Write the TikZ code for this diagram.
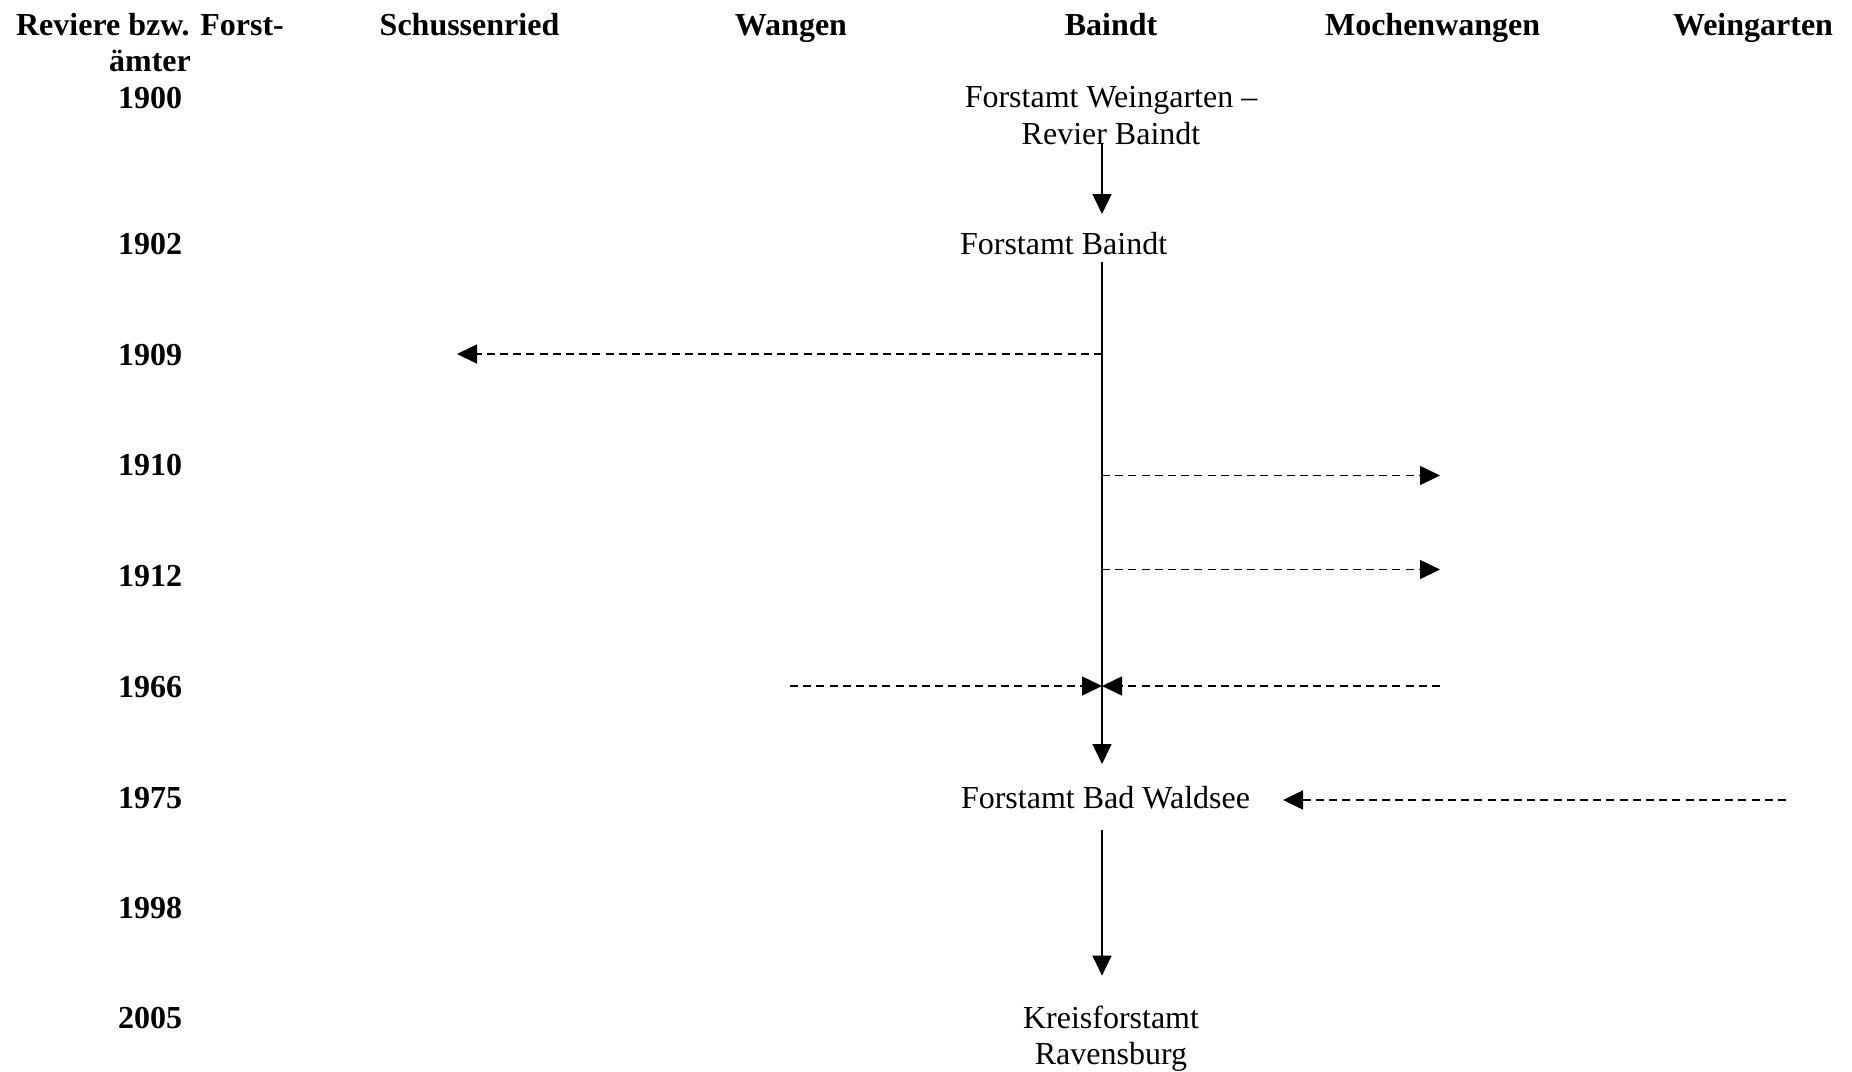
\documentclass[tikz,border=0pt]{standalone}
\usepackage{fontspec}
\setmainfont{Liberation Serif}
\usetikzlibrary{arrows.meta}
\begin{document}
\begin{tikzpicture}[x=0.5pt,y=-0.5pt,
  txt/.style={font=\fontsize{16}{18.3}\selectfont, inner sep=0pt, align=center},
  hdr/.style={font=\fontsize{16}{18}\selectfont\bfseries, inner sep=0pt, align=center},
  flow/.style={line width=0.8pt, -{Triangle[length=10pt,width=9.5pt]}},
  move/.style={flow, dash pattern=on 4pt off 2.6pt}]
\useasboundingbox (0,0) rectangle (1852,1071);
% column headers
\node[hdr] (h0) at (150,42.8) {Reviere bzw. Forst-\\ämter};
\node[hdr, anchor=base] (h1) at (469.5,35.7) {Schussenried};
\node[hdr, anchor=base] (h2) at (791,35.7) {Wangen};
\node[hdr, anchor=base] (h3) at (1111,35.7) {Baindt};
\node[hdr, anchor=base] (h4) at (1432.6,35.7) {Mochenwangen};
\node[hdr, anchor=base] (h5) at (1753,35.7) {Weingarten};
% years
\node[hdr, anchor=base] (y1900) at (150,108) {1900};
\node[hdr, anchor=base] (y1902) at (150,254.4) {1902};
\node[hdr, anchor=base] (y1909) at (150,365.4) {1909};
\node[hdr, anchor=base] (y1910) at (150,475.3) {1910};
\node[hdr, anchor=base] (y1912) at (150,586.3) {1912};
\node[hdr, anchor=base] (y1966) at (150,697.3) {1966};
\node[hdr, anchor=base] (y1975) at (150,808.3) {1975};
\node[hdr, anchor=base] (y1998) at (150,918.3) {1998};
\node[hdr, anchor=base] (y2005) at (150,1028.1) {2005};
% offices
\node[txt] (fw) at (1111,115.5) {Forstamt Weingarten –\\Revier Baindt};
\node[txt, anchor=base] (fb) at (1063.6,254.4) {Forstamt Baindt};
\node[txt, anchor=base] (fbw) at (1105.5,808.3) {Forstamt Bad Waldsee};
\node[txt] (kr) at (1111,1038.6) {Kreisforstamt\\Ravensburg};
% spine coordinates
\coordinate (s1) at (1102,143);
\coordinate (e1) at (1102,214);
\coordinate (s2) at (1102,262);
\coordinate (e2) at (1102,764);
\coordinate (s3) at (1102,830);
\coordinate (e3) at (1102,975.6);
\draw[flow] (s1) -- (e1);
\draw[flow] (s2) -- (e2);
\draw[flow] (s3) -- (e3);
% transfers
\coordinate (a1909) at (1102,354);
\coordinate (b1909) at (457,354);
\coordinate (a1910) at (1102,475.5);
\coordinate (b1910) at (1440,475.5);
\coordinate (a1912) at (1102,569.5);
\coordinate (b1912) at (1440,569.5);
\coordinate (w1966) at (790,686);
\coordinate (m1966) at (1440,686);
\coordinate (c1966) at (1102,686);
\coordinate (a1975) at (1786,800);
\coordinate (b1975) at (1283,800);
\draw[move] (a1909) -- (b1909);
\draw[move] (a1910) -- (b1910);
\draw[move] (a1912) -- (b1912);
\draw[move] (w1966) -- (c1966);
\draw[move] (m1966) -- (c1966);
\draw[move] (a1975) -- (b1975);
\end{tikzpicture}
\end{document}
